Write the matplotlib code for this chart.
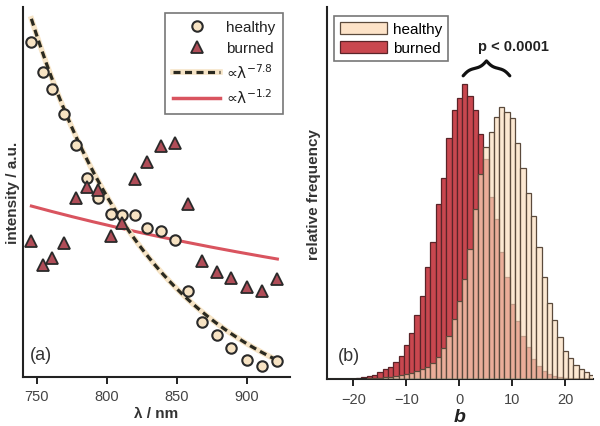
import numpy as np
import matplotlib
matplotlib.use("Agg")
from matplotlib import pyplot as plt
import matplotlib.transforms as mtransforms

plt.rcParams['font.family'] = ['Liberation Sans', 'DejaVu Sans']

# panel (a): spectra
wavelength = [746, 754, 761, 769, 778, 786, 794, 803, 811, 820,
              829, 839, 849, 858, 868, 879, 889, 900, 911, 922]
healthy = [0.905, 0.824, 0.778, 0.711, 0.627, 0.538, 0.484, 0.441, 0.438, 0.438,
           0.403, 0.395, 0.370, 0.232, 0.149, 0.114, 0.078, 0.046, 0.030, 0.043]
burned = [0.368, 0.303, 0.322, 0.362, 0.484, 0.514, 0.505, 0.381, 0.416, 0.535,
          0.581, 0.624, 0.632, 0.468, 0.314, 0.284, 0.268, 0.243, 0.232, 0.265]

# power-law fits: intensity = amp * (lambda / lambda0)^exp + offset
fit_healthy = {"exp": -7.8, "amp": 1.142, "offset": -0.174}
fit_burned = {"exp": -1.2, "amp": 0.638, "offset": -0.176}

# panel (b): histograms of b (bins of width 1, centred on integers)
b_centers = list(range(-25, 26))
hist_healthy = [0, 0, 0, 0, 0, 0.5, 0.5, 0.5, 0.7, 1, 1.5, 2, 2.5, 3, 4, 5, 6, 8,
                10, 12, 16, 22, 31, 43, 60, 78, 100, 130, 170, 205, 232, 247, 262,
                272, 267, 261, 236, 211, 186, 163, 132, 102, 76, 59, 42, 28, 21,
                14, 10, 7, 4]
hist_burned = [0, 0, 0, 0, 0, 0.5, 1, 2, 3, 4, 7, 10, 12, 17, 23, 34, 46, 64,
               83, 112, 137, 175, 201, 241, 269, 281, 295, 283, 269, 245, 220,
               182, 160, 127, 102, 75, 58, 43, 32, 20, 13, 8, 5, 3, 2, 1, 0.5,
               0.5, 0, 0, 0]

dark = '#2a2a2a'
fig = plt.figure(figsize=(6.0, 4.27), dpi=100)
ax1 = fig.add_axes([0.0383, 0.1148, 0.4450, 0.8665])
ax2 = fig.add_axes([0.545, 0.110, 0.4433, 0.8713])

for ax in (ax1, ax2):
    for side in ('top', 'right'):
        ax.spines[side].set_visible(False)
    for side in ('left', 'bottom'):
        ax.spines[side].set_linewidth(1.5)
        ax.spines[side].set_color('#222222')
    ax.set_yticks([])
    ax.tick_params(axis='x', length=5, width=1.4, color='#222222',
                   labelsize=10.5, labelcolor='#444444', pad=4)

# ---- (a)
lam = np.linspace(wavelength[0], wavelength[-1], 200)
y_h = fit_healthy["amp"] * (lam / wavelength[0]) ** fit_healthy["exp"] + fit_healthy["offset"]
y_b = fit_burned["amp"] * (lam / wavelength[0]) ** fit_burned["exp"] + fit_burned["offset"]

ax1.plot(lam, y_b, color='#d9545f', lw=2.2, zorder=2)
under, = ax1.plot(lam, y_h, color='#f6e4c6', lw=4.0, zorder=2)
dash, = ax1.plot(lam, y_h, color='#2b2a20', lw=2.3, dashes=(2.2, 1.4), zorder=3)
ax1.plot(wavelength, healthy, 'o', ms=7.5, mfc='#f7e3c3', mec=dark, mew=1.5, zorder=4)
ax1.plot(wavelength, burned, '^', ms=8, mfc='#b04d58', mec=dark, mew=1.3, zorder=4)

h_pt, = ax1.plot([], [], 'o', ms=7.5, mfc='#f7e3c3', mec=dark, mew=1.5)
b_pt, = ax1.plot([], [], '^', ms=8, mfc='#b04d58', mec=dark, mew=1.3)
r_ln, = ax1.plot([], [], color='#d9545f', lw=2.5)
leg = ax1.legend([h_pt, b_pt, (under, dash), r_ln],
                 ['healthy', 'burned', '∝λ$^{-7.8}$', '∝λ$^{-1.2}$'],
                 loc='upper right', bbox_to_anchor=(0.975, 0.985), borderaxespad=0,
                 fontsize=11, frameon=True, fancybox=False, handlelength=3.1,
                 handletextpad=0.4, labelspacing=0.45, borderpad=0.5)
leg.get_frame().set_edgecolor('#555555')
leg.get_frame().set_linewidth(1.2)
for i, t in enumerate(leg.get_texts()):
    t.set_color('#222222')
    if i >= 2:
        t.set_family(['DejaVu Sans'])

ax1.set_xlim(740, 931)
ax1.set_ylim(0, 1)
ax1.set_xticks([750, 800, 850, 900])
ax1.set_xlabel('λ / nm', fontsize=11, fontweight='bold', color='#333333', labelpad=2)
ax1.set_ylabel('intensity / a.u.', fontsize=11, fontweight='bold', color='#333333', labelpad=2)
ax1.text(0.026, 0.062, '(a)', transform=ax1.transAxes, fontsize=13,
         color='#333333', va='center', ha='left')

# ---- (b)
hb = np.array(hist_burned, dtype=float)
hh = np.array(hist_healthy, dtype=float)
total = hb.sum()
ax2.bar(b_centers, hb / total, width=1.0, color='#c9474f', edgecolor='#5a2428',
        lw=0.9, label='burned', zorder=2)
ax2.bar(b_centers, hh / total, width=1.0, color=(0.99, 0.87, 0.74, 0.68),
        edgecolor='#5b4a3c', lw=0.9, label='healthy', zorder=3)
ax2.set_xlim(-25, 25.2)
ax2.set_ylim(0, 372 / total)
ax2.set_xticks([-20, -10, 0, 10, 20])
ax2.set_xticklabels(['\u221220', '\u221210', '0', '10', '20'])
ax2.set_xlabel('b', fontsize=14, fontweight='bold', style='italic', color='#222222', labelpad=2)
ax2.set_ylabel('relative frequency', fontsize=11, fontweight='bold', color='#333333', labelpad=4)
ax2.text(0.041, 0.062, '(b)', transform=ax2.transAxes, fontsize=13,
         color='#333333', va='center', ha='left')

handles, labels = ax2.get_legend_handles_labels()
leg2 = ax2.legend(handles[::-1], labels[::-1], loc='upper left',
                  bbox_to_anchor=(0.026, 0.976), borderaxespad=0, fontsize=11,
                  fancybox=False, handlelength=3.1, handleheight=0.85,
                  handletextpad=0.35, labelspacing=0.3, borderpad=0.4)
leg2.get_frame().set_edgecolor('#555555')
leg2.get_frame().set_linewidth(1.2)
leg2.legend_handles[0].set_facecolor('#fde3c8')

# brace between the two peaks, with the p value above it
trans = mtransforms.blended_transform_factory(ax2.transData, ax2.transAxes)
x0, x1 = 0.7, 9.5
bx = np.linspace(x0, x1, 301)
half = bx[:151]
beta = 1.6
yh = 1 / (1 + np.exp(-beta * (half - half[0]))) + 1 / (1 + np.exp(-beta * (half - half[-1])))
by = np.concatenate([yh, yh[-2::-1]])
by = 0.815 + (by - 0.5) * 0.04
ax2.plot(bx, by, color='#111111', lw=2.3, transform=trans, clip_on=False,
         solid_capstyle='round')
ax2.text(10.1, 0.895, 'p < 0.0001', transform=trans, fontsize=10.5,
         fontweight='bold', color='#222222', ha='center', va='center')

fig.savefig('out.png', dpi=100)
